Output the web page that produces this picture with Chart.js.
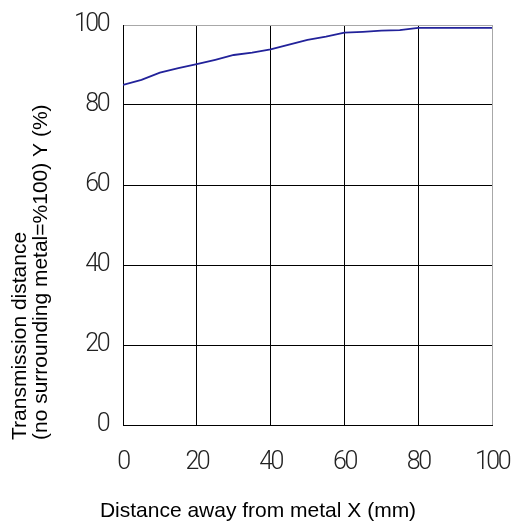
<!DOCTYPE html>
<html>
<head>
<meta charset="utf-8">
<script src="https://cdn.jsdelivr.net/npm/chart.js@4/dist/chart.umd.min.js"></script>
<style>
  html, body { margin: 0; padding: 0; background: #fff; }
  canvas { display: block; }
</style>
</head>
<body>
<canvas id="c" width="511" height="521"></canvas>
<script>
// distance from metal (mm) and transmission distance (%)
const distances = [0, 5, 10, 15, 20, 25, 30, 35, 40, 45, 50, 55, 60, 65, 70, 75, 80, 85, 90, 95, 100];
const transmission = [85, 86.3, 88.1, 89.2, 90.2, 91.3, 92.5, 93.1, 93.9, 95.1, 96.3, 97.1, 98.1, 98.3, 98.6, 98.7, 99.3, 99.3, 99.3, 99.3, 99.3];

const xTitle = 'Distance away from metal X (mm)';
const yTitleLines = ['Transmission distance', '(no surrounding metal=%100) Y (%)'];

const FONT = 'Liberation Sans, Arial, sans-serif';
const TICK_FONT = 'Roboto, Liberation Sans, Arial, sans-serif';

// tick digits in the original are tall and narrow, squeeze them a bit
const tightTicks = {
    id: 'tightTicks',
    beforeDraw(chart) {
        chart.ctx.letterSpacing = '-2.5px';
    }
};

// axis titles drawn by hand so they sit where the original has them
const titlesPlugin = {
    id: 'titles',
    afterDraw(chart) {
        const ctx = chart.ctx;
        ctx.save();
        ctx.letterSpacing = '0px';
        ctx.fillStyle = '#000';
        ctx.font = '21px ' + FONT;
        ctx.textBaseline = 'alphabetic';

        ctx.textAlign = 'center';
        ctx.fillText(xTitle, 258, 517);

        ctx.textAlign = 'left';
        const xs = [26, 47];
        yTitleLines.forEach((line, i) => {
            ctx.save();
            ctx.translate(xs[i], 440);
            ctx.rotate(-Math.PI / 2);
            ctx.fillText(line, 0, 0);
            ctx.restore();
        });
        ctx.restore();
    }
};

const gridColor = (ctx) => ctx.tick && ctx.tick.value === 100 ? '#a8a8a8' : '#000';

new Chart(document.getElementById('c'), {
    type: 'line',
    data: {
        datasets: [{
            data: distances.map((d, i) => ({ x: d, y: transmission[i] })),
            borderColor: '#22229a',
            borderWidth: 1.8,
            pointRadius: 0,
            fill: false,
            tension: 0
        }]
    },
    options: {
        responsive: false,
        animation: false,
        layout: { padding: { left: 0, right: 19, top: 25, bottom: 0 } },
        plugins: {
            legend: { display: false },
            tooltip: { enabled: false }
        },
        scales: {
            x: {
                type: 'linear',
                min: 0,
                max: 100,
                afterFit: (scale) => {
                    scale.height = 96;
                    scale.paddingLeft = 0;
                    scale.paddingRight = 0;
                },
                ticks: {
                    stepSize: 20,
                    padding: 23,
                    maxRotation: 0,
                    color: '#222',
                    font: { family: TICK_FONT, size: 25, weight: 300 }
                },
                grid: { color: gridColor, lineWidth: 1, drawTicks: false },
                border: { color: '#000', width: 1 }
            },
            y: {
                type: 'linear',
                min: 0,
                max: 100,
                afterFit: (scale) => {
                    scale.width = 123;
                    scale.paddingTop = 0;
                    scale.paddingBottom = 0;
                },
                ticks: {
                    stepSize: 20,
                    padding: 15,
                    color: '#222',
                    font: { family: TICK_FONT, size: 25, weight: 300 }
                },
                grid: { color: gridColor, lineWidth: 1, drawTicks: false },
                border: { color: '#000', width: 1 }
            }
        }
    },
    plugins: [tightTicks, titlesPlugin]
});
</script>
</body>
</html>
